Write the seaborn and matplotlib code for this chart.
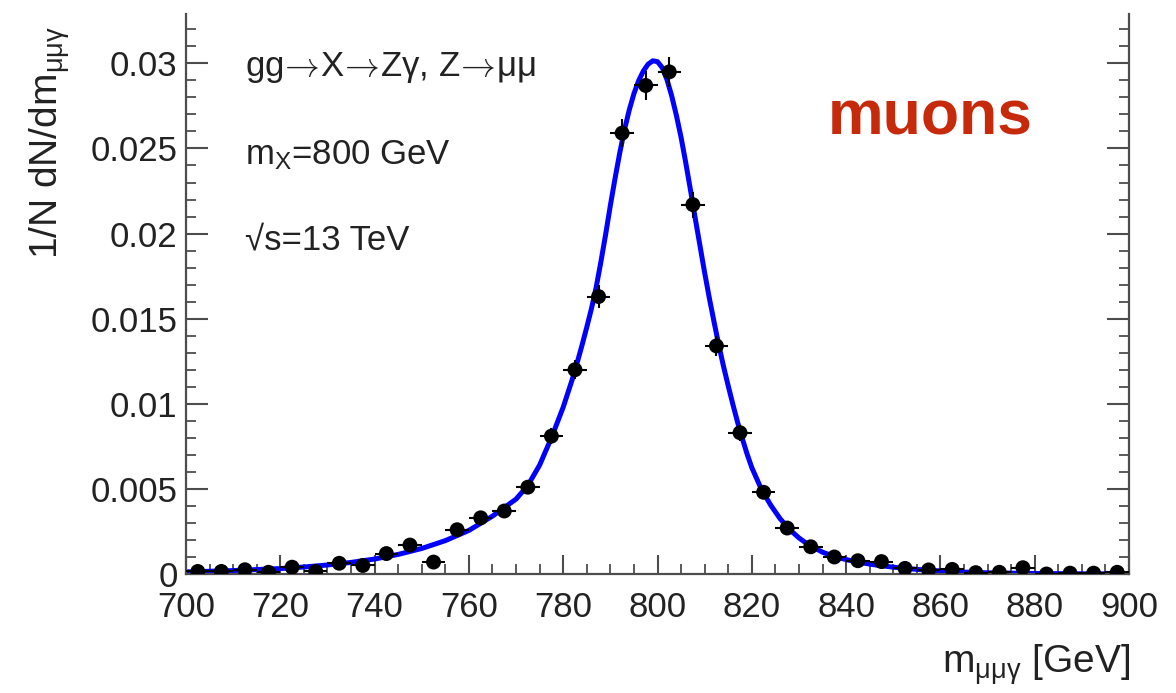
import numpy as np
import pandas as pd
import matplotlib
matplotlib.use("Agg")
import matplotlib.pyplot as plt
import seaborn as sns
from matplotlib.ticker import MultipleLocator, FuncFormatter

# ---------------- data ----------------
bin_centers = [702.5, 707.5, 712.5, 717.5, 722.5, 727.5, 732.5, 737.5, 742.5, 747.5,
               752.5, 757.5, 762.5, 767.5, 772.5, 777.5, 782.5, 787.5, 792.5, 797.5,
               802.5, 807.5, 812.5, 817.5, 822.5, 827.5, 832.5, 837.5, 842.5, 847.5,
               852.5, 857.5, 862.5, 867.5, 872.5, 877.5, 882.5, 887.5, 892.5, 897.5]
density = [0.00015, 0.00015, 0.00025, 0.00010, 0.00040, 0.00015, 0.00063, 0.00050, 0.00120, 0.00170,
           0.00070, 0.00260, 0.00330, 0.00370, 0.00510, 0.00810, 0.01200, 0.01630, 0.02590, 0.02870,
           0.02950, 0.02170, 0.01340, 0.00830, 0.00480, 0.00270, 0.00160, 0.00100, 0.00078, 0.00073,
           0.00033, 0.00024, 0.00027, 0.00008, 0.00010, 0.00037, 0.00000, 0.00005, 0.00005, 0.00010]
density_err = [0.00006, 0.00006, 0.00008, 0.00005, 0.00010, 0.00006, 0.00013, 0.00012, 0.00018, 0.00021,
               0.00014, 0.00026, 0.00030, 0.00031, 0.00037, 0.00046, 0.00057, 0.00066, 0.00083, 0.00088,
               0.00089, 0.00076, 0.00060, 0.00047, 0.00036, 0.00027, 0.00021, 0.00016, 0.00014, 0.00014,
               0.00009, 0.00008, 0.00009, 0.00005, 0.00005, 0.00010, 0.00000, 0.00004, 0.00004, 0.00005]
bin_half_width = 2.5

fit_mass = [700, 705, 710, 715, 720, 725, 730, 735, 740, 745, 750, 755, 760, 765, 770,
            772.5, 775, 777.5, 780, 782, 783, 784, 785, 786, 787, 788, 789, 790, 791, 792,
            793, 794, 795, 796, 797, 798, 799, 800, 801, 802, 803, 804, 805, 806, 807,
            808, 809, 810, 811, 812, 813, 814, 815, 816, 817, 818, 819, 820, 822, 824,
            826, 828, 830, 832, 835, 838, 842, 846, 850, 855, 860, 865, 870, 880, 890, 900]
fit_density = [0.00012, 0.00016, 0.00020, 0.00026, 0.00032, 0.00041, 0.00053, 0.00068, 0.00088, 0.00115,
               0.00150, 0.00196, 0.00256, 0.00340, 0.00440,
               0.00520, 0.00640, 0.00800, 0.00980, 0.01150, 0.01245, 0.01345, 0.01450, 0.01560, 0.01685,
               0.01835, 0.01995, 0.02165, 0.02325, 0.02475,
               0.02610, 0.02725, 0.02822, 0.02898, 0.02955, 0.02995, 0.03015, 0.03010, 0.02975, 0.02905,
               0.02810, 0.02695, 0.02565, 0.02415, 0.02255,
               0.02090, 0.01930, 0.01770, 0.01620, 0.01480, 0.01345, 0.01220, 0.01105, 0.00995, 0.00890,
               0.00795, 0.00705, 0.00625, 0.00500, 0.00405,
               0.00325, 0.00262, 0.00212, 0.00172, 0.00128, 0.00098, 0.00072, 0.00054, 0.00040, 0.00027,
               0.00018, 0.00011, 0.00007, 0.00003, 0.00001, 0.00001]

x_tick_values = [700, 720, 740, 760, 780, 800, 820, 840, 860, 880, 900]
y_tick_values = [0, 0.005, 0.01, 0.015, 0.02, 0.025, 0.03]

annotation_lines = [r"gg$\!\rightarrow\!$X$\!\rightarrow\!$Zγ, Z$\!\rightarrow\!$μμ",
                    "m$_{X}$=800 GeV", "√s=13 TeV"]
channel_label = "muons"
x_label = "m$_{μμγ}$ [GeV]"
y_label = "1/N dN/dm$_{μμγ}$"

# ---------------- style ----------------
sns.set_style("ticks")
plt.rcParams["font.family"] = ["Liberation Sans", "DejaVu Sans"]
plt.rcParams["mathtext.fontset"] = "custom"
plt.rcParams["mathtext.rm"] = "Liberation Sans"
plt.rcParams["mathtext.it"] = "Liberation Sans"
plt.rcParams["mathtext.bf"] = "Liberation Sans:bold"

axis_color = "#4d4d4d"
text_color = "#222222"
FS = 25
TITLE_FS = 28

fig = plt.figure(figsize=(11.76, 6.93), dpi=100)
ax = fig.add_axes([186 / 1176, 1 - 574 / 693, (1129 - 186) / 1176, (574 - 14) / 693])

fit_df = pd.DataFrame({"mass": fit_mass, "density": fit_density})
data_df = pd.DataFrame({"mass": bin_centers, "density": density, "err": density_err})

sns.lineplot(data=fit_df, x="mass", y="density", color="#0000ff", linewidth=3.6,
             estimator=None, ax=ax, zorder=2)
ax.errorbar(data_df["mass"], data_df["density"], yerr=data_df["err"], xerr=bin_half_width,
            fmt="none", ecolor="black", elinewidth=1.5, capsize=0, zorder=3)
sns.scatterplot(data=data_df, x="mass", y="density", color="black", s=115,
                edgecolor="none", linewidth=0, ax=ax, zorder=4)

ax.set_xlim(700, 900)
ax.set_ylim(0, 0.0329)
ax.set_xlabel("")
ax.set_ylabel("")

ax.set_xticks(x_tick_values)
ax.set_yticks(y_tick_values)
ax.xaxis.set_minor_locator(MultipleLocator(5))
ax.yaxis.set_minor_locator(MultipleLocator(0.001))
ax.yaxis.set_major_formatter(FuncFormatter(lambda v, p: "%g" % round(v, 6)))
ax.xaxis.set_major_formatter(FuncFormatter(lambda v, p: "%g" % v))

for side in ["left", "bottom", "right"]:
    ax.spines[side].set_visible(True)
    ax.spines[side].set_color(axis_color)
    ax.spines[side].set_linewidth(1.6)
ax.spines["top"].set_visible(False)

ax.tick_params(axis="y", which="major", direction="in", length=15.5, width=1.5,
               color=axis_color, labelsize=FS, labelcolor=text_color, pad=6,
               left=True, right=True)
ax.tick_params(axis="y", which="minor", direction="in", length=7.5, width=1.3,
               color=axis_color, left=True, right=True)
ax.tick_params(axis="x", which="major", direction="in", length=13.5, width=1.5,
               color=axis_color, labelsize=FS, labelcolor=text_color, pad=12,
               bottom=True, top=False)
ax.tick_params(axis="x", which="minor", direction="in", length=7, width=1.3,
               color=axis_color, bottom=True, top=False)

# annotations
ann_y = [0.9036, 0.748, 0.596]
for i, (txt, yy) in enumerate(zip(annotation_lines, ann_y)):
    kw = {"math_fontfamily": "cm"} if i == 0 else {}
    ax.text(0.0626, yy, txt, transform=ax.transAxes, ha="left", va="center",
            fontsize=FS, color=text_color, **kw)
ax.text(0.681, 0.814, channel_label, transform=ax.transAxes, ha="left", va="center",
        fontsize=45, fontweight="bold", color="#c62a0b")

fig.text(50 / 1176, 1 - 26 / 693, y_label, rotation=90, ha="center", va="top",
         fontsize=TITLE_FS, color=text_color)
fig.text(1130 / 1176, 1 - 665 / 693, x_label, ha="right", va="center",
         fontsize=TITLE_FS, color=text_color)

fig.savefig("out.png", dpi=100, facecolor="white")
